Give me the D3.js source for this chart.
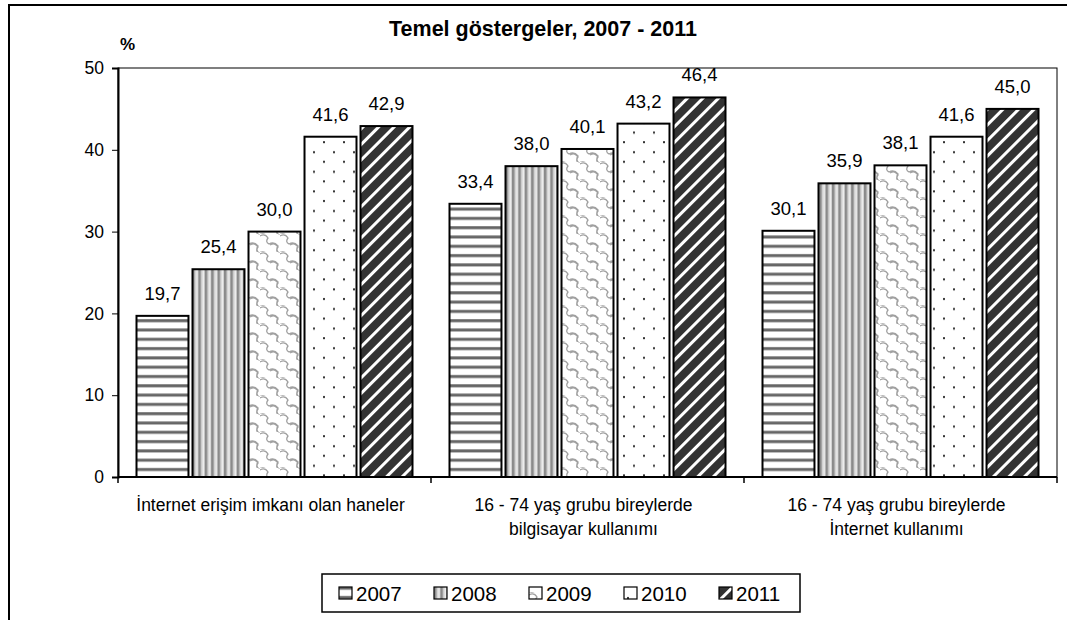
<!DOCTYPE html>
<html lang="tr">
<head>
<meta charset="utf-8">
<title>Temel göstergeler, 2007 - 2011</title>
<script src="https://cdn.jsdelivr.net/npm/d3@7"></script>
<style>
  body { margin: 0; background: #fff; }
  text { font-family: "Liberation Sans", Arial, sans-serif; fill: #000; }
</style>
</head>
<body>
<script>
// data
var categories = [
  ["İnternet erişim imkanı olan haneler"],
  ["16 - 74 yaş grubu bireylerde", "bilgisayar kullanımı"],
  ["16 - 74 yaş grubu bireylerde", "İnternet kullanımı"]
];
var years = ["2007", "2008", "2009", "2010", "2011"];
var v2007 = [19.7, 33.4, 30.1];
var v2008 = [25.4, 38.0, 35.9];
var v2009 = [30.0, 40.1, 38.1];
var v2010 = [41.6, 43.2, 41.6];
var v2011 = [42.9, 46.4, 45.0];
var yTicks = [0, 10, 20, 30, 40, 50];

var series = [v2007, v2008, v2009, v2010, v2011];

var W = 1067, H = 620;
var m = {left: 118, top: 68, right: 1057, bottom: 477};

var svg = d3.select("body").append("svg")
  .attr("width", W).attr("height", H);

// patterns
var defs = svg.append("defs");

var p1 = defs.append("pattern").attr("id", "p2007")
  .attr("patternUnits", "userSpaceOnUse").attr("width", 8).attr("height", 9.3);
p1.append("rect").attr("width", 8).attr("height", 9.3).attr("fill", "#fff");
p1.append("rect").attr("y", 3).attr("width", 8).attr("height", 3).attr("fill", "#666");

var p2 = defs.append("pattern").attr("id", "p2008")
  .attr("patternUnits", "userSpaceOnUse").attr("width", 6.4).attr("height", 8);
p2.append("rect").attr("width", 6.4).attr("height", 8).attr("fill", "#d0d0d0");
p2.append("rect").attr("x", 0).attr("width", 2.4).attr("height", 8).attr("fill", "#8a8a8a");
p2.append("rect").attr("x", 4.2).attr("width", 1.2).attr("height", 8).attr("fill", "#f2f2f2");

var p3 = defs.append("pattern").attr("id", "p2009")
  .attr("patternUnits", "userSpaceOnUse").attr("width", 20).attr("height", 18);
p3.append("rect").attr("width", 20).attr("height", 18).attr("fill", "#fff");
p3.append("path")
  .attr("d", "M0,2 Q5,-1 8,4 Q5,8 9,10 Q14,7 18,12 Q15,16 20,20 M10,-8 Q15,-11 18,-6 Q15,-2 19,0 Q24,-3 28,2 M-10,11 Q-5,8 -2,13 Q-5,17 -1,19 Q4,16 8,21 M10,11 Q15,8 18,13 Q15,17 19,19")
  .attr("fill", "none").attr("stroke", "#a0a0a0").attr("stroke-width", 1.3);

var p4 = defs.append("pattern").attr("id", "p2010")
  .attr("patternUnits", "userSpaceOnUse").attr("width", 20).attr("height", 19.6);
p4.append("rect").attr("width", 20).attr("height", 19.6).attr("fill", "#fff");
p4.append("rect").attr("x", 3).attr("y", 4).attr("width", 2).attr("height", 2).attr("fill", "#333");
p4.append("rect").attr("x", 13).attr("y", 14).attr("width", 2).attr("height", 2).attr("fill", "#333");

var p5 = defs.append("pattern").attr("id", "p2011")
  .attr("patternUnits", "userSpaceOnUse").attr("width", 11).attr("height", 11)
  .attr("patternTransform", "rotate(45)");
p5.append("rect").attr("width", 11).attr("height", 11).attr("fill", "#333");
p5.append("rect").attr("x", 4).attr("width", 3).attr("height", 11).attr("fill", "#fff");

// outer frame
svg.append("path").attr("d", "M9,620 V5 H1067")
  .attr("fill", "none").attr("stroke", "#000").attr("stroke-width", 2);

// scales
var x0 = d3.scaleBand().domain(d3.range(categories.length))
  .range([m.left, m.right]);
var x1 = d3.scaleBand().domain(years)
  .range([18.5, x0.bandwidth() - 18.5]).paddingInner(0.072);
var y = d3.scaleLinear().domain([0, 50]).range([m.bottom, m.top]);

// plot frame
svg.append("rect").attr("x", m.left).attr("y", m.top)
  .attr("width", m.right - m.left).attr("height", m.bottom - m.top)
  .attr("fill", "none").attr("stroke", "#000").attr("stroke-width", 1);

// y axis
var yAxis = svg.append("g").attr("transform", "translate(" + m.left + ",0)")
  .call(d3.axisLeft(y).tickValues(yTicks).tickSize(6).tickPadding(8));
yAxis.select(".domain").attr("stroke-width", 2);
yAxis.selectAll("text").attr("font-size", 17.5)
  .style("font-family", "'Liberation Sans', Arial, sans-serif");

// x axis
var xAxis = svg.append("g").attr("transform", "translate(0," + m.bottom + ")");
xAxis.append("line").attr("x1", m.left).attr("x2", m.right)
  .attr("stroke", "#000").attr("stroke-width", 2);
xAxis.selectAll(".tk").data(d3.range(categories.length + 1)).enter()
  .append("line")
  .attr("x1", function(d) { return m.left + d * x0.bandwidth(); })
  .attr("x2", function(d) { return m.left + d * x0.bandwidth(); })
  .attr("y1", 0).attr("y2", 6).attr("stroke", "#000").attr("stroke-width", 1.5);

// bars
years.forEach(function(yr, si) {
  var g = svg.append("g");
  g.selectAll("rect").data(series[si]).enter().append("rect")
    .attr("x", function(d, i) { return x0(i) + x1(yr); })
    .attr("y", function(d) { return y(d); })
    .attr("width", x1.bandwidth())
    .attr("height", function(d) { return y(0) - y(d); })
    .attr("fill", "url(#p" + yr + ")")
    .attr("stroke", "#000").attr("stroke-width", 2);
  g.selectAll("text").data(series[si]).enter().append("text")
    .attr("x", function(d, i) { return x0(i) + x1(yr) + x1.bandwidth() / 2; })
    .attr("y", function(d) { return y(d) - 16; })
    .attr("text-anchor", "middle").attr("font-size", 18.5)
    .text(function(d) { return d.toFixed(1).replace(".", ","); });
});

// category labels
categories.forEach(function(lines, i) {
  var t = svg.append("text").attr("text-anchor", "middle").attr("font-size", 17.5)
    .attr("x", x0(i) + x0.bandwidth() / 2 - 4);
  lines.forEach(function(l, k) {
    t.append("tspan").attr("x", x0(i) + x0.bandwidth() / 2 - 4)
      .attr("y", 511 + k * 24).text(l);
  });
});

// title
svg.append("text").attr("x", 543).attr("y", 36).attr("text-anchor", "middle")
  .attr("font-size", 21.5).attr("font-weight", "bold")
  .text("Temel göstergeler, 2007 - 2011");
svg.append("text").attr("x", 120).attr("y", 50).attr("font-size", 17)
  .attr("font-weight", "bold").text("%");

// legend
svg.append("rect").attr("x", 322).attr("y", 574).attr("width", 478).attr("height", 38)
  .attr("fill", "#fff").attr("stroke", "#000").attr("stroke-width", 1.5);
var lg = svg.selectAll(".lg").data(years).enter().append("g")
  .attr("transform", function(d, i) { return "translate(" + (339 + i * 95) + ",593)"; });
lg.append("rect").attr("x", 0).attr("y", -6).attr("width", 13).attr("height", 12)
  .attr("fill", function(d) { return "url(#p" + d + ")"; })
  .attr("stroke", "#000").attr("stroke-width", 1.2);
lg.append("text").attr("x", 17).attr("y", 8).attr("font-size", 20.5)
  .text(function(d) { return d; });
</script>
</body>
</html>
